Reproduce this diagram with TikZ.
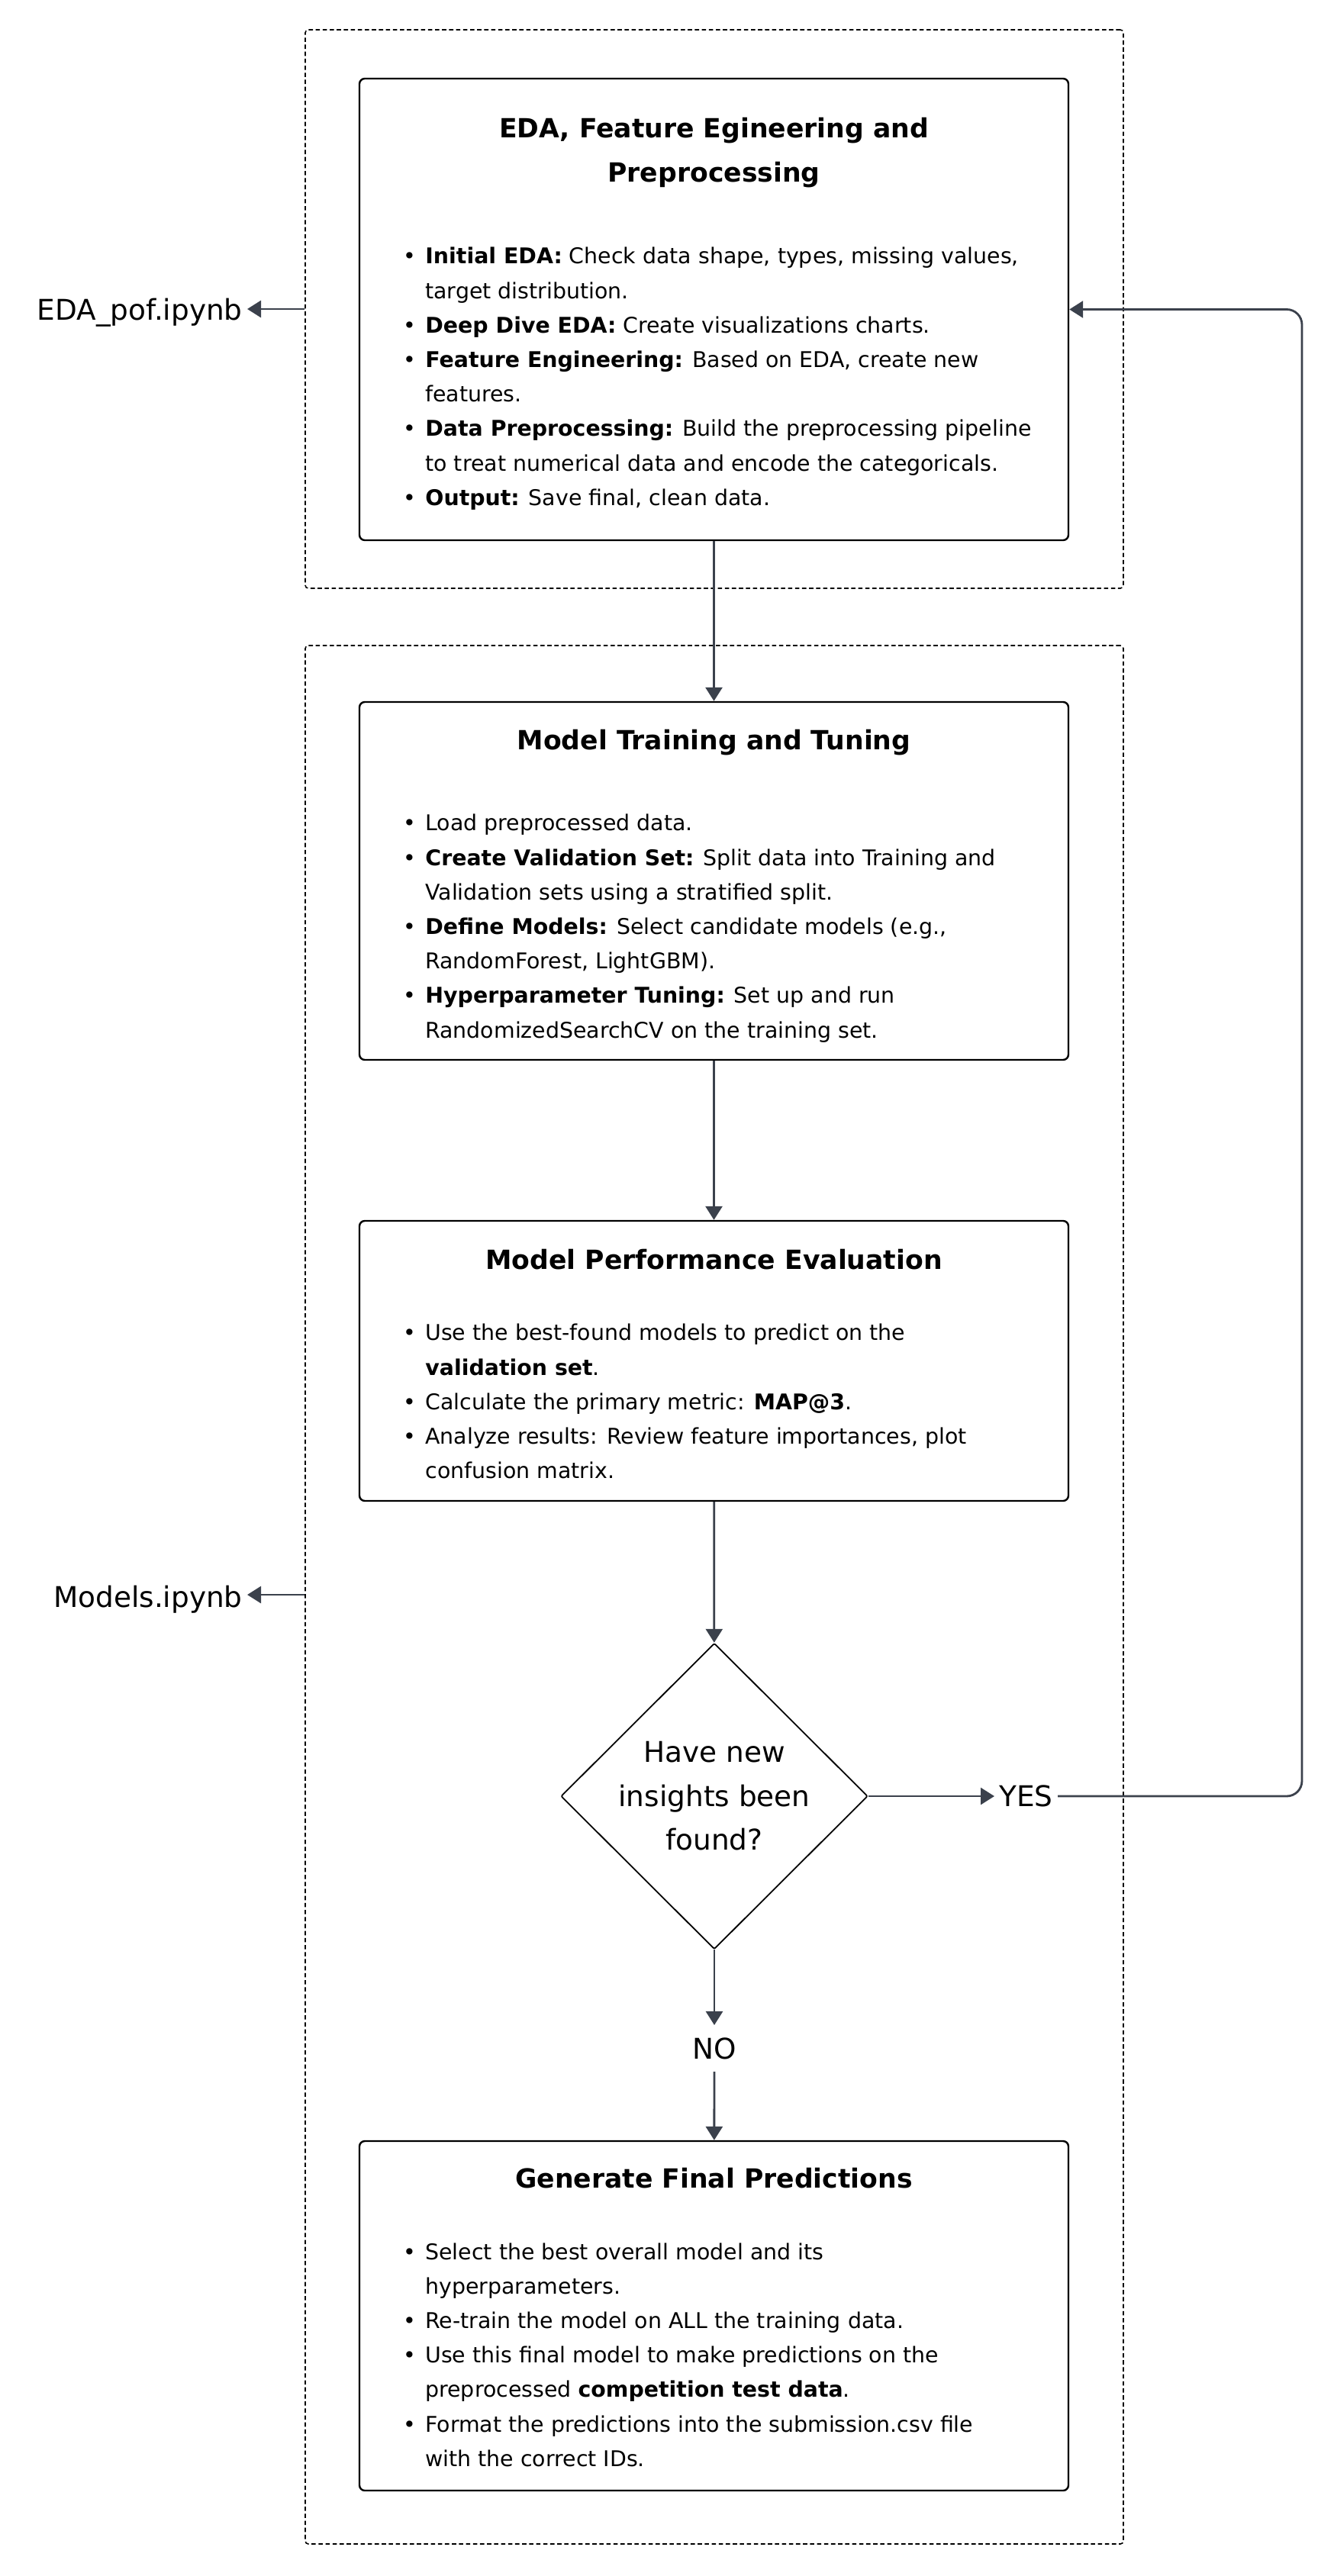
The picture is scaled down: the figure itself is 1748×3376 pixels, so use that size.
\documentclass[tikz,border=0pt]{standalone}
\usepackage{fontspec}
\setmainfont{DejaVu Sans}
\usetikzlibrary{arrows.meta,shapes.geometric}
\definecolor{flowgray}{HTML}{3B414C}
\newcommand{\bul}{\makebox[14.5pt][l]{\textbullet}}
\newcommand{\cont}{\hspace*{14.5pt}}
\tikzset{
  group/.style={draw=black, line width=0.8pt, dash pattern=on 2.8pt off 1.8pt,
    rounded corners=2pt, minimum width=536pt},
  stagebox/.style={draw=black, line width=1.2pt, rounded corners=3.5pt,
    minimum width=464.5pt},
  stagetitle/.style={font=\bfseries\fontsize{17.3}{29}\selectfont, align=center, inner sep=0pt},
  stagebody/.style={font=\fontsize{14.2}{22.6}\selectfont, align=left, inner sep=0pt, anchor=north west},
  decision/.style={diamond, draw=black, line width=0.9pt, rounded corners=1pt, aspect=1,
    inner sep=0pt, minimum width=201pt, minimum height=200.5pt,
    font=\fontsize{18.7}{28.75}\selectfont, align=center},
  answer/.style={font=\fontsize{18.7}{24}\selectfont, inner sep=3pt},
  filename/.style={font=\fontsize{18.7}{24}\selectfont, inner sep=3pt, anchor=base east},
  flow/.style={draw=flowgray, line width=1.4pt, -{Triangle[length=9pt,width=11pt]}}
}
\begin{document}
\begin{tikzpicture}[x=0.5pt,y=-0.5pt]
\useasboundingbox (0,0) rectangle (1748,3376);
% notebook groups
\node[group, minimum height=366pt] (nbeda) at (936,405) {};
\node[group, minimum height=1244pt] (nbmodels) at (936,2090) {};
\node[filename] (edafile) at (324,420) {EDA\_pof.ipynb};
\node[filename] (modelsfile) at (324,2106) {Models.ipynb};
% stages
\node[stagebox, minimum height=302.5pt] (eda) at (935.5,405.5) {};
\node[stagetitle, anchor=north] (edatitle) at (935.5,154) {EDA, Feature Egineering and\\Preprocessing};
\node[stagebody] (edalist) at (528,324) {\bul\textbf{Initial EDA:} Check data shape, types, missing values,\\
  \cont target distribution.\\
  \bul\textbf{Deep Dive EDA:} Create visualizations charts.\\
  \bul\textbf{Feature Engineering:} Based on EDA, create new\\
  \cont features.\\
  \bul\textbf{Data Preprocessing:} Build the preprocessing pipeline\\
  \cont to treat numerical data and encode the categoricals.\\
  \bul\textbf{Output:} Save final, clean data.};

\node[stagebox, minimum height=234.5pt] (train) at (935.5,1154.5) {};
\node[stagetitle, anchor=base] (traintitle) at (935.5,982) {Model Training and Tuning};
\node[stagebody] (trainlist) at (528,1067) {\bul Load preprocessed data.\\
  \bul\textbf{Create Validation Set:} Split data into Training and\\
  \cont Validation sets using a stratified split.\\
  \bul\textbf{Define Models:} Select candidate models (e.g.,\\
  \cont RandomForest, LightGBM).\\
  \bul\textbf{Hyperparameter Tuning:} Set up and run\\
  \cont RandomizedSearchCV on the training set.};

\node[stagebox, minimum height=183.5pt] (perf) at (935.5,1783.5) {};
\node[stagetitle, anchor=base] (perftitle) at (935.5,1663) {Model Performance Evaluation};
\node[stagebody] (perflist) at (528,1735) {\bul Use the best-found models to predict on the\\
  \cont\textbf{validation set}.\\
  \bul Calculate the primary metric: \textbf{MAP@3}.\\
  \bul Analyze results: Review feature importances, plot\\
  \cont confusion matrix.};

\node[decision] (insight) at (936,2354) {Have new\\insights been\\found?};
\node[answer] (yes) at (1344.5,2354) {YES};
\node[answer, inner ysep=8pt] (no) at (936,2684.5) {NO};

\node[stagebox, minimum height=229pt] (final) at (935.5,3035) {};
\node[stagetitle, anchor=base] (finaltitle) at (935.5,2867) {Generate Final Predictions};
\node[stagebody] (finallist) at (528,2939) {\bul Select the best overall model and its\\
  \cont hyperparameters.\\
  \bul Re-train the model on ALL the training data.\\
  \bul Use this final model to make predictions on the\\
  \cont preprocessed \textbf{competition test data}.\\
  \bul Format the predictions into the submission.csv file\\
  \cont with the correct IDs.};

% connectors
\draw[flow] (nbeda.west) -- (edafile.east |- nbeda.west);
\draw[flow] (nbmodels.west) -- (modelsfile.east |- nbmodels.west);
\draw[flow] (eda) -- (train);
\draw[flow] (train) -- (perf);
\draw[flow] (perf) -- (insight);
\draw[flow] (insight) -- (yes);
\draw[flow] (insight) -- (no);
\draw[flow] (no) -- (final);
\coordinate (loop) at (1706,405.5);
\draw[flow, rounded corners=10pt] (yes.east) -| (loop) -- (eda.east);
\end{tikzpicture}
\end{document}
